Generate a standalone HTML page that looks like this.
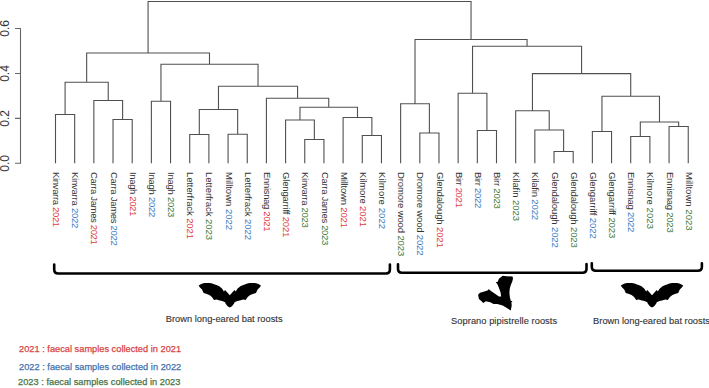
<!DOCTYPE html>
<html><head><meta charset="utf-8"><style>
html,body{margin:0;padding:0;background:#fff;}
body{width:709px;height:388px;overflow:hidden;position:relative;}
svg{position:absolute;left:0;top:0;}
.lab{font-family:"Liberation Sans",sans-serif;font-size:9.5px;fill:#333;}
.ax{font-family:"Liberation Sans",sans-serif;font-size:12px;fill:#333;}
.bt{font-family:"Liberation Sans",sans-serif;font-size:9.3px;fill:#333;stroke:#333;stroke-width:0.12px;}
</style></head><body>
<svg width="709" height="388" viewBox="0 0 709 388">
<path d="M55.50 163.30V114.50H74.67V163.30M113.02 163.30V119.50H132.20V163.30M93.85 163.30V100.50H122.61V119.50M65.09 114.50V82.25H108.23V100.50M151.37 163.30V101.25H170.54V163.30M189.72 163.30V134.50H208.89V163.30M228.07 163.30V134.25H247.24V163.30M199.31 134.50V109.50H237.65V134.25M304.76 163.30V139.50H323.94V163.30M285.59 163.30V120.00H314.35V139.50M362.28 163.30V135.50H381.46V163.30M343.11 163.30V117.50H371.87V135.50M299.97 120.00V107.25H357.49V117.50M266.41 163.30V98.25H328.73V107.25M218.48 109.50V86.25H297.57V98.25M160.96 101.25V64.25H258.03V86.25M86.66 82.25V53.00H209.49V64.25M419.81 163.30V133.00H438.98V163.30M400.63 163.30V103.75H429.39V133.00M477.33 163.30V130.50H496.50V163.30M458.15 163.30V93.25H486.91V130.50M554.02 163.30V151.50H573.20V163.30M534.85 163.30V130.00H563.61V151.50M515.68 163.30V110.75H549.23V130.00M592.37 163.30V131.50H611.55V163.30M630.72 163.30V136.50H649.89V163.30M669.07 163.30V126.50H688.24V163.30M640.31 136.50V122.00H678.65V126.50M601.96 131.50V96.25H659.48V122.00M532.45 110.75V73.60H630.72V96.25M472.53 93.25V46.25H581.59V73.60M415.01 103.75V39.50H527.06V46.25M148.07 53.00V1.50H471.04V39.50" fill="none" stroke="#505050" stroke-width="1.1"/>
<path d="M15 28.5H20.5V163.3H15M15 73.5H20.5M15 118.4H20.5" fill="none" stroke="#666" stroke-width="1.1"/>
<g class="ax">
<text transform="translate(8.8,28.4) rotate(-90)" text-anchor="middle">0.6</text>
<text transform="translate(8.8,73.5) rotate(-90)" text-anchor="middle">0.4</text>
<text transform="translate(8.8,118.4) rotate(-90)" text-anchor="middle">0.2</text>
<text transform="translate(8.8,163.3) rotate(-90)" text-anchor="middle">0.0</text>
</g>
<g class="lab">
<text transform="translate(53.10,172) rotate(90)" textLength="55.17" lengthAdjust="spacing">Kinvarra <tspan fill="#e0393e">2021</tspan></text>
<text transform="translate(72.27,172) rotate(90)" textLength="56.37" lengthAdjust="spacing">Kinvarra <tspan fill="#3a7cc4">2022</tspan></text>
<text transform="translate(91.45,172) rotate(90)" textLength="72.82" lengthAdjust="spacing">Carra James <tspan fill="#e0393e">2021</tspan></text>
<text transform="translate(110.62,172) rotate(90)" textLength="73.92" lengthAdjust="spacing">Carra James <tspan fill="#3a7cc4">2022</tspan></text>
<text transform="translate(129.80,172) rotate(90)" textLength="44.34" lengthAdjust="spacing">Inagh <tspan fill="#e0393e">2021</tspan></text>
<text transform="translate(148.97,172) rotate(90)" textLength="45.34" lengthAdjust="spacing">Inagh <tspan fill="#3a7cc4">2022</tspan></text>
<text transform="translate(168.14,172) rotate(90)" textLength="45.34" lengthAdjust="spacing">Inagh <tspan fill="#3f7a3a">2023</tspan></text>
<text transform="translate(187.32,172) rotate(90)" textLength="66.96" lengthAdjust="spacing">Letterfrack <tspan fill="#e0393e">2021</tspan></text>
<text transform="translate(206.49,172) rotate(90)" textLength="67.96" lengthAdjust="spacing">Letterfrack <tspan fill="#3f7a3a">2023</tspan></text>
<text transform="translate(225.67,172) rotate(90)" textLength="58.08" lengthAdjust="spacing">Milltown <tspan fill="#3a7cc4">2022</tspan></text>
<text transform="translate(244.84,172) rotate(90)" textLength="67.96" lengthAdjust="spacing">Letterfrack <tspan fill="#3a7cc4">2022</tspan></text>
<text transform="translate(264.01,172) rotate(90)" textLength="59.53" lengthAdjust="spacing">Ennisnag <tspan fill="#e0393e">2021</tspan></text>
<text transform="translate(283.19,172) rotate(90)" textLength="65.4" lengthAdjust="spacing">Glengarriff <tspan fill="#e0393e">2021</tspan></text>
<text transform="translate(302.36,172) rotate(90)" textLength="55.87" lengthAdjust="spacing">Kinvarra <tspan fill="#3f7a3a">2023</tspan></text>
<text transform="translate(321.54,172) rotate(90)" textLength="73.32" lengthAdjust="spacing">Carra James <tspan fill="#3f7a3a">2023</tspan></text>
<text transform="translate(340.71,172) rotate(90)" textLength="55.88" lengthAdjust="spacing">Milltown <tspan fill="#e0393e">2021</tspan></text>
<text transform="translate(359.88,172) rotate(90)" textLength="55.01" lengthAdjust="spacing">Kilmore <tspan fill="#e0393e">2021</tspan></text>
<text transform="translate(379.06,172) rotate(90)" textLength="57.11" lengthAdjust="spacing">Kilmore <tspan fill="#3a7cc4">2022</tspan></text>
<text transform="translate(398.23,172) rotate(90)" textLength="84.22" lengthAdjust="spacing">Dromore wood <tspan fill="#3f7a3a">2023</tspan></text>
<text transform="translate(417.41,172) rotate(90)" textLength="83.52" lengthAdjust="spacing">Dromore wood <tspan fill="#3a7cc4">2022</tspan></text>
<text transform="translate(436.58,172) rotate(90)" textLength="75.76" lengthAdjust="spacing">Glendalough <tspan fill="#e0393e">2021</tspan></text>
<text transform="translate(455.75,172) rotate(90)" textLength="35.73" lengthAdjust="spacing">Birr <tspan fill="#e0393e">2021</tspan></text>
<text transform="translate(474.93,172) rotate(90)" textLength="36.23" lengthAdjust="spacing">Birr <tspan fill="#3a7cc4">2022</tspan></text>
<text transform="translate(494.10,172) rotate(90)" textLength="36.83" lengthAdjust="spacing">Birr <tspan fill="#3f7a3a">2023</tspan></text>
<text transform="translate(513.28,172) rotate(90)" textLength="48.99" lengthAdjust="spacing">Kilafin <tspan fill="#3f7a3a">2023</tspan></text>
<text transform="translate(532.45,172) rotate(90)" textLength="48.09" lengthAdjust="spacing">Kilafin <tspan fill="#3a7cc4">2022</tspan></text>
<text transform="translate(551.62,172) rotate(90)" textLength="75.76" lengthAdjust="spacing">Glendalough <tspan fill="#3a7cc4">2022</tspan></text>
<text transform="translate(570.80,172) rotate(90)" textLength="75.76" lengthAdjust="spacing">Glendalough <tspan fill="#3f7a3a">2023</tspan></text>
<text transform="translate(589.97,172) rotate(90)" textLength="66.7" lengthAdjust="spacing">Glengarriff <tspan fill="#3a7cc4">2022</tspan></text>
<text transform="translate(609.15,172) rotate(90)" textLength="66.2" lengthAdjust="spacing">Glengarriff <tspan fill="#3f7a3a">2023</tspan></text>
<text transform="translate(628.32,172) rotate(90)" textLength="60.33" lengthAdjust="spacing">Ennisnag <tspan fill="#3a7cc4">2022</tspan></text>
<text transform="translate(647.49,172) rotate(90)" textLength="57.01" lengthAdjust="spacing">Kilmore <tspan fill="#3f7a3a">2023</tspan></text>
<text transform="translate(666.67,172) rotate(90)" textLength="60.73" lengthAdjust="spacing">Ennisnag <tspan fill="#3f7a3a">2023</tspan></text>
<text transform="translate(685.84,172) rotate(90)" textLength="58.58" lengthAdjust="spacing">Milltown <tspan fill="#3f7a3a">2023</tspan></text>
</g>
<g fill="none" stroke="#000" stroke-width="2.6" stroke-linecap="round">
<path d="M54.2 264.5V269.5Q54.2 273.5 58.2 273.5H385.9Q389.9 273.5 389.9 269.5V264.5"/>
<path d="M398 264.2V268.7Q398 272.7 402 272.7H582.5Q586.5 272.7 586.5 268.7V264"/>
<path d="M591.8 263.2V266.8Q591.8 270.8 595.8 270.8H697.9Q701.9 270.8 701.9 266.8V263.2"/>
</g>
<g fill="#000">
<path d="M229.80 295.30 L225.10 290.00 L223.90 291.60 L222.20 288.80 L219.30 286.30 L216.40 284.90 L214.80 284.40 L212.30 283.50 L209.80 283.00 L207.30 282.90 L204.80 283.10 L202.50 283.60 L200.80 284.20 L198.70 285.50 L199.50 287.10 L202.00 289.60 L203.60 292.90 L206.10 293.70 L209.40 294.90 L211.90 297.00 L214.00 299.90 L216.40 299.50 L219.80 300.60 L222.20 301.10 L225.10 302.20 L225.50 303.60 L227.60 306.20 L229.80 307.60 L232.00 306.20 L234.10 303.60 L234.50 302.20 L237.40 301.10 L239.80 300.60 L243.20 299.50 L245.60 299.90 L247.70 297.00 L250.20 294.90 L253.50 293.70 L256.00 292.90 L257.60 289.60 L260.10 287.10 L260.90 285.50 L258.80 284.20 L257.10 283.60 L254.80 283.10 L252.30 282.90 L249.80 283.00 L247.30 283.50 L244.80 284.40 L243.20 284.90 L240.30 286.30 L237.40 288.80 L235.70 291.60 L234.50 290.00Z"/>
<path d="M652.00 295.30 L647.30 290.00 L646.10 291.60 L644.40 288.80 L641.50 286.30 L638.60 284.90 L637.00 284.40 L634.50 283.50 L632.00 283.00 L629.50 282.90 L627.00 283.10 L624.70 283.60 L623.00 284.20 L620.90 285.50 L621.70 287.10 L624.20 289.60 L625.80 292.90 L628.30 293.70 L631.60 294.90 L634.10 297.00 L636.20 299.90 L638.60 299.50 L642.00 300.60 L644.40 301.10 L647.30 302.20 L647.70 303.60 L649.80 306.20 L652.00 307.60 L654.20 306.20 L656.30 303.60 L656.70 302.20 L659.60 301.10 L662.00 300.60 L665.40 299.50 L667.80 299.90 L669.90 297.00 L672.40 294.90 L675.70 293.70 L678.20 292.90 L679.80 289.60 L682.30 287.10 L683.10 285.50 L681.00 284.20 L679.30 283.60 L677.00 283.10 L674.50 282.90 L672.00 283.00 L669.50 283.50 L667.00 284.40 L665.40 284.90 L662.50 286.30 L659.60 288.80 L657.90 291.60 L656.70 290.00Z"/>
<path d="M498.9 278.7L502.7 275.8L506.5 276.3L512.5 276.6L513 278.5L512.3 281.5L510.8 285L509.7 289L509.4 293L509.9 297.5L510.8 300.7L512.5 301.3L511.4 302.3L511.7 305.6L510.8 310.5L506.5 307.8L502.7 305.6L497.3 304L493.5 304L490.3 302.3L485.9 301.3L483.2 302.9L481.6 301.3L478.9 299.1L478.1 294.8L480 292.8L484.3 291.5L488.1 290.2L488.6 289.1L490.3 290.4L495.7 294.2L498.9 296.4L501.1 296.4L500.6 292.6L498.9 287.7L497.3 283.9L495.7 282.3L497.8 281.8Z"/>
</g>
<g class="bt">
<text x="165.8" y="322.3">Brown long-eared bat roosts</text>
<text x="451.1" y="324.3" textLength="106" lengthAdjust="spacing">Soprano pipistrelle roosts</text>
<text x="593.1" y="323.8">Brown long-eared bat roosts</text>
</g>
<g font-family="Liberation Sans, sans-serif" font-size="9.2px" stroke-width="0.25">
<text x="19" y="352.3" fill="#d84343" stroke="#d84343" textLength="162.1" lengthAdjust="spacing">2021 : faecal samples collected in 2021</text>
<text x="19" y="369.8" fill="#4272ad" stroke="#4272ad" textLength="162.2" lengthAdjust="spacing">2022 : faecal samples collected in 2022</text>
<text x="18" y="385.4" fill="#477343" stroke="#477343" textLength="162.4" lengthAdjust="spacing">2023 : faecal samples collected in 2023</text>
</g>
</svg>
</body></html>
